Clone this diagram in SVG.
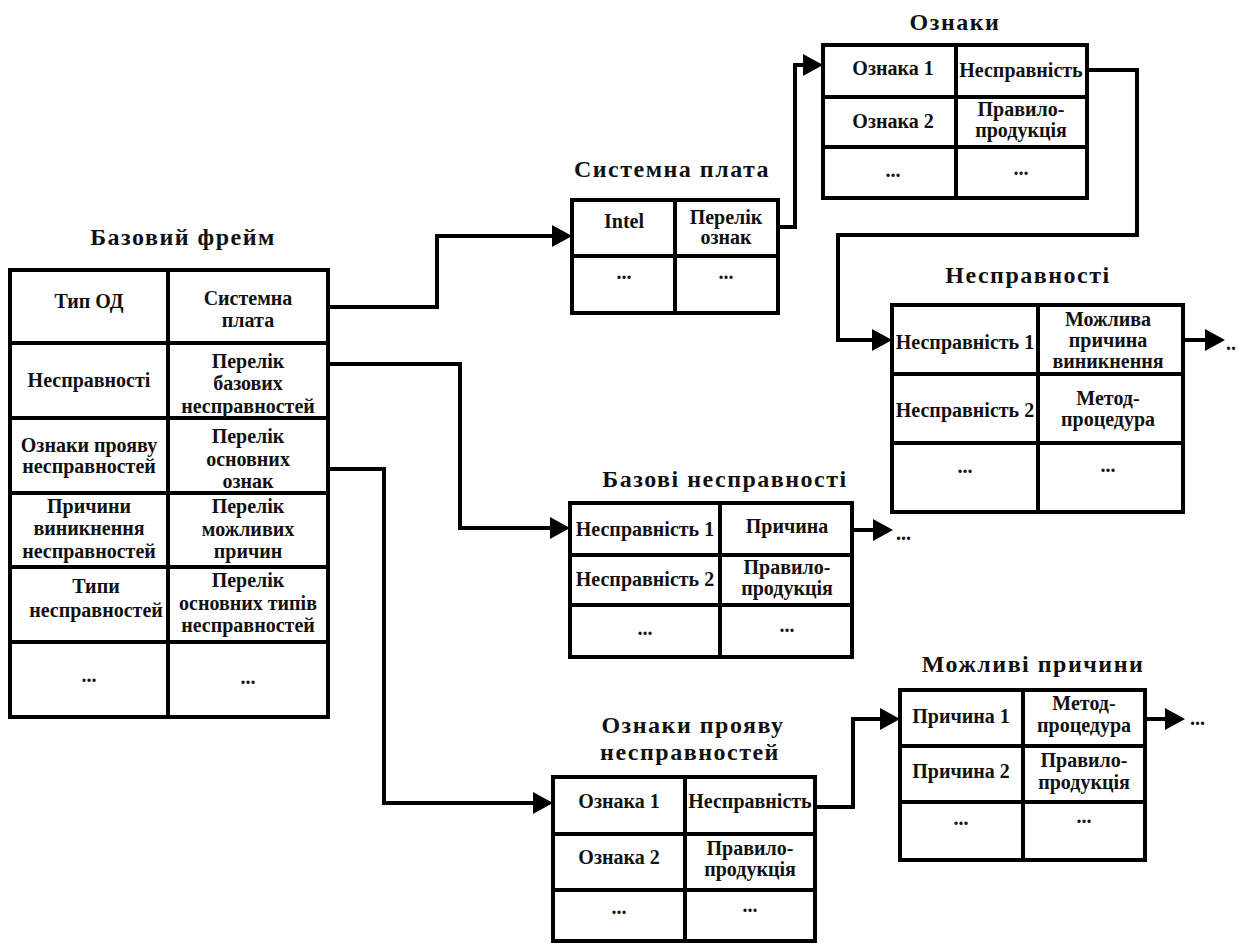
<svg xmlns="http://www.w3.org/2000/svg" width="1239" height="945" viewBox="0 0 1239 945" font-family="'Liberation Serif', 'DejaVu Serif', serif">
<style>
.frame{fill:#fff;stroke:#000;stroke-width:4}
.grid{stroke:#000;stroke-width:4;fill:none}
.conn{fill:none;stroke:#000;stroke-width:4;stroke-linejoin:miter}
.ttl{font-weight:bold;font-size:24px;letter-spacing:1.5px;text-anchor:middle;fill:#111}
.c{font-weight:bold;font-size:20px;text-anchor:middle;fill:#111}
.d{font-weight:bold;font-size:20px;fill:#111}
</style>
<defs>
<marker id="ah" viewBox="0 0 20 22" refX="10" refY="11" markerWidth="20" markerHeight="22" markerUnits="userSpaceOnUse" orient="auto">
<path d="M0,0 L20,11 L0,22 z" fill="#000"/>
</marker>
</defs>
<rect width="1239" height="945" fill="#fff"/>

<g id="connectors">
<path class="conn" d="M330,307 H437 V236 H562" marker-end="url(#ah)"/>
<path class="conn" d="M330,364 H460 V528 H560" marker-end="url(#ah)"/>
<path class="conn" d="M330,469 H384 V803 H543" marker-end="url(#ah)"/>
<path class="conn" d="M778,227 H795 V65 H813" marker-end="url(#ah)"/>
<path class="conn" d="M1087,70 H1137 V235 H838 V340 H882" marker-end="url(#ah)"/>
<path class="conn" d="M1183,340 H1215" marker-end="url(#ah)"/>
<path class="conn" d="M852,530 H883" marker-end="url(#ah)"/>
<path class="conn" d="M815,807 H853 V719 H890" marker-end="url(#ah)"/>
<path class="conn" d="M1145,719 H1175" marker-end="url(#ah)"/>
<text class="d" x="1226" y="350">..</text>
<text class="d" x="896" y="540">...</text>
<text class="d" x="1190" y="725">...</text>
</g>

<g id="base-frame">
<text class="ttl" x="183" y="245">Базовий фрейм</text>
<rect class="frame" x="10" y="270" width="318" height="447"/>
<path class="grid" d="M168,270 V717 M10,343 H328 M10,418 H328 M10,493 H328 M10,567 H328 M10,642 H328"/>
<text class="c" x="89" y="308">Тип ОД</text>
<text class="c" x="248" y="305">Системна</text>
<text class="c" x="248" y="327">плата</text>
<text class="c" x="89" y="387">Несправності</text>
<text class="c" x="248" y="368">Перелік</text>
<text class="c" x="248" y="390">базових</text>
<text class="c" x="248" y="413">несправностей</text>
<text class="c" x="89" y="452">Ознаки прояву</text>
<text class="c" x="89" y="473">несправностей</text>
<text class="c" x="248" y="443">Перелік</text>
<text class="c" x="248" y="466">основних</text>
<text class="c" x="248" y="488">ознак</text>
<text class="c" x="89" y="513">Причини</text>
<text class="c" x="89" y="535">виникнення</text>
<text class="c" x="89" y="558">несправностей</text>
<text class="c" x="248" y="513">Перелік</text>
<text class="c" x="248" y="536">можливих</text>
<text class="c" x="248" y="558">причин</text>
<text class="c" x="96" y="593">Типи</text>
<text class="c" x="96" y="617">несправностей</text>
<text class="c" x="248" y="587">Перелік</text>
<text class="c" x="248" y="610">основних типів</text>
<text class="c" x="248" y="632">несправностей</text>
<text class="c" x="89" y="682">...</text>
<text class="c" x="248" y="684">...</text>
</g>

<g id="systemna-plata">
<text class="ttl" x="672" y="177">Системна плата</text>
<rect class="frame" x="572" y="200" width="206" height="113"/>
<path class="grid" d="M675,200 V313 M572,256 H778"/>
<text class="c" x="624" y="228">Intel</text>
<text class="c" x="726" y="224">Перелік</text>
<text class="c" x="726" y="244">ознак</text>
<text class="c" x="624" y="279">...</text>
<text class="c" x="726" y="279">...</text>
</g>

<g id="oznaky">
<text class="ttl" x="955" y="30">Ознаки</text>
<rect class="frame" x="823" y="45" width="264" height="153"/>
<path class="grid" d="M956,45 V198 M823,97 H1087 M823,147 H1087"/>
<text class="c" x="893" y="75">Ознака 1</text>
<text class="c" x="1021" y="77">Несправність</text>
<text class="c" x="893" y="128">Ознака 2</text>
<text class="c" x="1021" y="116">Правило-</text>
<text class="c" x="1021" y="137">продукція</text>
<text class="c" x="893" y="177">...</text>
<text class="c" x="1021" y="175">...</text>
</g>

<g id="nespravnosti">
<text class="ttl" x="1028" y="283">Несправності</text>
<rect class="frame" x="892" y="305" width="291" height="207"/>
<path class="grid" d="M1038,305 V512 M892,374 H1183 M892,443 H1183"/>
<text class="c" x="965" y="349">Несправність 1</text>
<text class="c" x="1108" y="326">Можлива</text>
<text class="c" x="1108" y="347">причина</text>
<text class="c" x="1108" y="368">виникнення</text>
<text class="c" x="965" y="417">Несправність 2</text>
<text class="c" x="1108" y="405">Метод-</text>
<text class="c" x="1108" y="426">процедура</text>
<text class="c" x="965" y="473">...</text>
<text class="c" x="1108" y="472">...</text>
</g>

<g id="bazovi-nespravnosti">
<text class="ttl" x="725" y="487">Базові несправності</text>
<rect class="frame" x="570" y="503" width="282" height="154"/>
<path class="grid" d="M720,503 V657 M570,555 H852 M570,605 H852"/>
<text class="c" x="645" y="536">Несправність 1</text>
<text class="c" x="787" y="533">Причина</text>
<text class="c" x="645" y="586">Несправність 2</text>
<text class="c" x="787" y="574">Правило-</text>
<text class="c" x="787" y="595">продукція</text>
<text class="c" x="645" y="635">...</text>
<text class="c" x="787" y="632">...</text>
</g>

<g id="oznaky-proiavu">
<text class="ttl" x="693" y="733">Ознаки прояву</text>
<text class="ttl" x="690" y="760">несправностей</text>
<rect class="frame" x="553" y="777" width="262" height="164"/>
<path class="grid" d="M685,777 V941 M553,834 H815 M553,890 H815"/>
<text class="c" x="619" y="808">Ознака 1</text>
<text class="c" x="750" y="808">Несправність</text>
<text class="c" x="619" y="864">Ознака 2</text>
<text class="c" x="750" y="855">Правило-</text>
<text class="c" x="750" y="876">продукція</text>
<text class="c" x="619" y="914">...</text>
<text class="c" x="750" y="912">...</text>
</g>

<g id="mozhlyvi-prychyny">
<text class="ttl" x="1033" y="672">Можливі причини</text>
<rect class="frame" x="900" y="690" width="245" height="170"/>
<path class="grid" d="M1023,690 V860 M900,746 H1145 M900,802 H1145"/>
<text class="c" x="961" y="723">Причина 1</text>
<text class="c" x="1084" y="710">Метод-</text>
<text class="c" x="1084" y="732">процедура</text>
<text class="c" x="961" y="778">Причина 2</text>
<text class="c" x="1084" y="767">Правило-</text>
<text class="c" x="1084" y="789">продукція</text>
<text class="c" x="961" y="825">...</text>
<text class="c" x="1084" y="823">...</text>
</g>
</svg>
